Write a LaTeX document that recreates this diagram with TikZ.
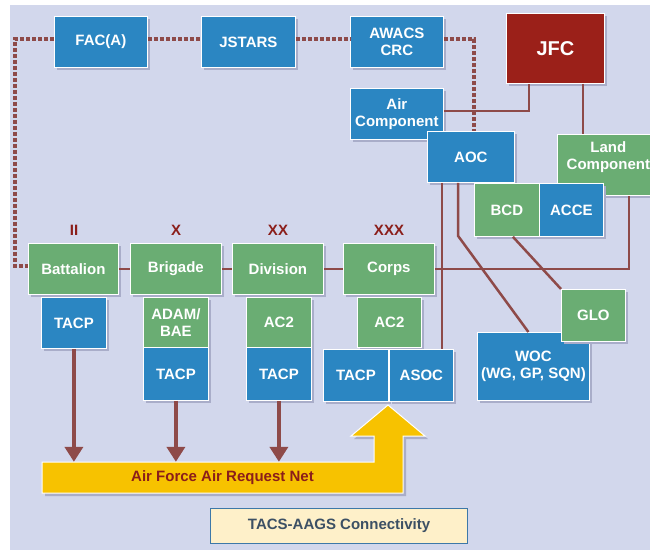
\documentclass[tikz,border=0pt]{standalone}
\usepackage{fontspec}
\setmainfont{Liberation Sans}
\usetikzlibrary{arrows.meta,shadows,calc}
\definecolor{BG}{HTML}{D2D7EC}
\definecolor{SH}{HTML}{A9ADC9}
\definecolor{PB}{HTML}{2B86C2}
\definecolor{PG}{HTML}{6AAD73}
\definecolor{JR}{HTML}{9B2019}
\definecolor{LN}{HTML}{8E4A49}
\definecolor{YL}{HTML}{F7C200}
\definecolor{NR}{HTML}{8B1E1A}
\definecolor{TY}{HTML}{FEF0C9}
\definecolor{TB}{HTML}{3D78A8}
\definecolor{TT}{HTML}{3C5064}

\begin{document}
\begin{tikzpicture}[x=1pt,y=-1pt,
    box/.style={anchor=north west,draw=white,line width=0.8pt,inner sep=0pt,
      align=center,text=white,font=\fontsize{15}{17}\selectfont\bfseries,
      drop shadow={shadow xshift=3pt,shadow yshift=-3pt,fill=SH,opacity=1}},
    bl/.style={box,fill=PB},
    gr/.style={box,fill=PG},
    sz/.style n args={2}{minimum width=#1pt,minimum height=#2pt},
    echelon/.style={text=NR,font=\fontsize{15}{17}\selectfont\bfseries},
    ln/.style={draw=LN,line width=2.5pt},
    dotl/.style={draw=LN,line width=3.2pt,dash pattern=on 4pt off 2pt},
    arr/.style={draw=LN,line width=4pt,-{Triangle[width=18pt,length=15pt]}}]
  \useasboundingbox (0,0) rectangle (650,550);
  \clip (0,0) rectangle (650,550);
  \fill[BG] (10,5) rectangle (650,550);

  % top row
  \node[bl,sz={93}{51}] (faca) at (54,16) {FAC(A)};
  \node[bl,sz={94}{51}] (jstars) at (201,16) {JSTARS};
  \node[bl,sz={93}{51}] (awacs) at (350,16) {AWACS\\CRC};
  \node[box,fill=JR,sz={98}{70},font=\fontsize{20}{22}\selectfont\bfseries] (jfc) at (506,13) {JFC};

  % components
  \node[bl,sz={93}{51}] (aircomp) at (350,88) {Air\\Component};
  \node[bl,sz={87}{51}] (aoc) at (427,131) {AOC};
  \node[gr,sz={102}{61},text depth=19pt] (land) at (557,134) {Land\\Component};
  \node[gr,sz={65}{53}] (bcd) at (474,183) {BCD};
  \node[bl,sz={64}{53}] (acce) at (539,183) {ACCE};

  % echelons
  \node[echelon] (ii) at (74,230) {II};
  \node[echelon] (x) at (176,230) {X};
  \node[echelon] (xx) at (278,230) {XX};
  \node[echelon] (xxx) at (389,230) {XXX};

  \node[gr,sz={90}{51}] (battalion) at (28,243) {Battalion};
  \node[gr,sz={91}{51}] (brigade) at (130,243) {Brigade};
  \node[gr,sz={91}{51}] (division) at (232,243) {Division};
  \node[gr,sz={91}{51}] (corps) at (343,243) {Corps};

  \node[bl,sz={65}{51}] (tacpa) at (41,297) {TACP};
  \node[gr,sz={65}{50}] (adam) at (143,297) {ADAM/\\BAE};
  \node[bl,sz={65}{53}] (tacpb) at (143,347) {TACP};
  \node[gr,sz={65}{50}] (ac2a) at (246,297) {AC2};
  \node[bl,sz={65}{53}] (tacpc) at (246,347) {TACP};
  \node[gr,sz={64}{50}] (ac2b) at (357,297) {AC2};
  \node[bl,sz={65}{52}] (tacpd) at (323,349) {TACP};
  \node[bl,sz={64}{52}] (asoc) at (389,349) {ASOC};

  \node[bl,sz={112}{68}] (woc) at (477,332) {WOC\\(WG, GP, SQN)};
  \node[gr,sz={64}{52}] (glo) at (561,289) {GLO};

  % air request net
  \filldraw[fill=YL,draw=white,line width=1pt,
    drop shadow={shadow xshift=3pt,shadow yshift=-3pt,fill=SH,opacity=1}]
    (42,462) -- (374,462) -- (374,436) -- (351,436) -- (388,405)
    -- (425,436) -- (403,436) -- (403,493) -- (42,493) -- cycle;
  \node[sz={361}{31},inner sep=0pt,text=NR,font=\fontsize{15}{17}\selectfont\bfseries]
    (arnet) at (222.5,477.5) {Air Force Air Request Net};

  \node[anchor=north west,sz={257}{35},inner sep=0pt,fill=TY,draw=TB,line width=1.2pt,
    text=TT,font=\fontsize{15}{17}\selectfont\bfseries] (title) at (210,508) {TACS-AAGS Connectivity};

  % dotted links
  \draw[dotl] ([yshift=3pt]faca.east) -- ([yshift=3pt]jstars.west);
  \draw[dotl] ([yshift=3pt]jstars.east) -- ([yshift=3pt]awacs.west);
  \draw[dotl] ([yshift=3pt]awacs.east) -| ([xshift=3pt]aoc.north);
  \draw[dotl] ([yshift=3pt]faca.west) -| ([xshift=-13pt,yshift=3pt]battalion.west)
    -- ([yshift=3pt]battalion.west);

  % solid links
  \draw[ln] (battalion) -- (brigade);
  \draw[ln] (brigade) -- (division);
  \draw[ln] (division) -- (corps);
  \draw[ln] ([yshift=3pt]aircomp.east) -| ([xshift=23pt]jfc.south west);
  \draw[ln] ([xshift=77pt]jfc.south west) -- ([xshift=77pt]jfc.south west |- land.north);
  \draw[ln] ([xshift=15pt]aoc.south west) -- ([xshift=15pt]aoc.south west |- asoc.north);
  \draw[ln] ([xshift=31pt]aoc.south west) -- ++(0,53) -- ([xshift=-5pt]woc.north);
  \draw[ln] ([xshift=6pt]bcd.south) -- (glo.north west);
  \draw[ln] (corps.east) -| ([xshift=72pt]land.south west);

  \foreach \t in {tacpa,tacpb,tacpc}
    \draw[arr] (\t.south) -- (\t.south |- arnet.north);
\end{tikzpicture}
\end{document}
